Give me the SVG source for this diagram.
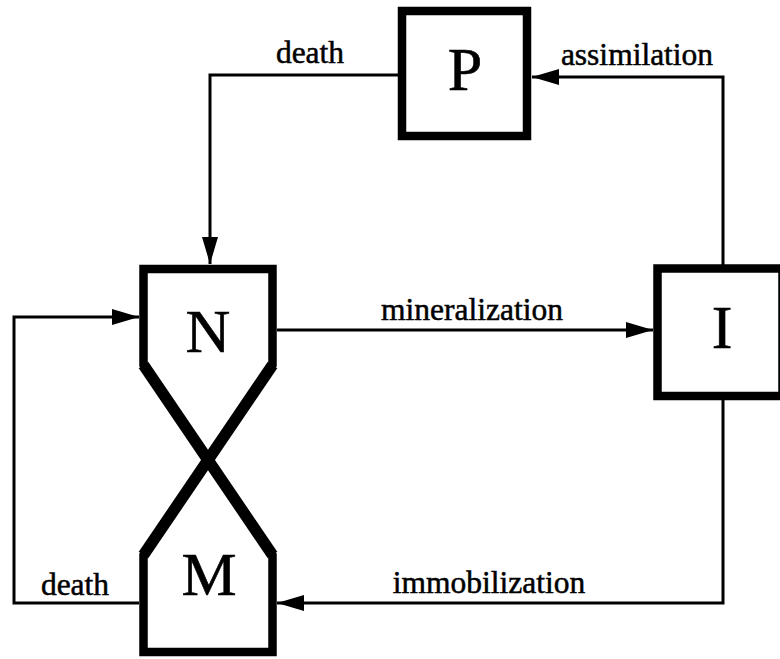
<svg xmlns="http://www.w3.org/2000/svg" width="780" height="659" viewBox="0 0 780 659">
<style>
.box{fill:none;stroke:#000;stroke-width:8.5;stroke-linejoin:miter}
.diag{fill:none;stroke:#000;stroke-width:11.5;stroke-linejoin:miter}
.big{font-family:"Liberation Serif","Times New Roman",serif;font-size:62px;text-anchor:middle;fill:#000;stroke:#000;stroke-width:0.6}
.lbl{font-family:"Liberation Serif","Times New Roman",serif;font-size:31.5px;text-anchor:middle;fill:#000;stroke:#000;stroke-width:0.5}
.con{fill:none;stroke:#000;stroke-width:3}
</style>
<defs>
<marker id="arr" markerUnits="userSpaceOnUse" markerWidth="28" markerHeight="18" viewBox="0 0 28 18" refX="27" refY="9" orient="auto">
<path d="M0,1 L27,9 L0,17 Z" fill="#000"/>
</marker>
</defs>
<rect width="780" height="659" fill="#fff"/>
<g id="connectors">
<path class="con" d="M398,75 H210 V264" marker-end="url(#arr)"/>
<path class="con" d="M723,265 V77 H532" marker-end="url(#arr)"/>
<path class="con" d="M277,330 H653" marker-end="url(#arr)"/>
<path class="con" d="M723,400 V603 H277" marker-end="url(#arr)"/>
<path class="con" d="M139,603 H14 V317 H139" marker-end="url(#arr)"/>
</g>
<g id="node-P">
<rect class="box" x="402" y="11" width="125" height="125"/>
<text class="big" x="465" y="90">P</text>
</g>
<g id="node-I">
<rect class="box" x="657.5" y="268.5" width="125" height="127.5"/>
<text class="big" x="722" y="348">I</text>
</g>
<g id="node-N">
<path class="box" d="M208,460 L143.5,365 V269 H272.5 V365 Z"/>
<path class="diag" d="M143.5,365 L208,460 L272.5,365"/>
<text class="big" x="208" y="352">N</text>
</g>
<g id="node-M">
<path class="box" d="M208,460 L272.5,555 V652 H143.5 V555 Z"/>
<path class="diag" d="M143.5,555 L208,460 L272.5,555"/>
<text class="big" x="209" y="595">M</text>
</g>
<g id="labels">
<text class="lbl" x="310" y="63">death</text>
<text class="lbl" x="637" y="65">assimilation</text>
<text class="lbl" x="472" y="320">mineralization</text>
<text class="lbl" x="489" y="593">immobilization</text>
<text class="lbl" x="75" y="595">death</text>
</g>
</svg>
